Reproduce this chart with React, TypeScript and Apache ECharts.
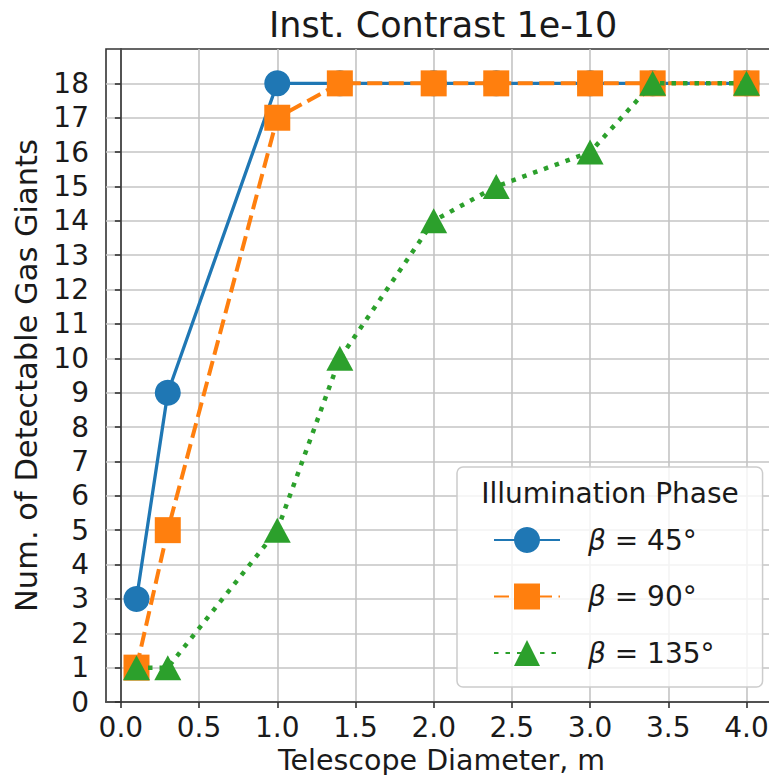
import React, { useEffect, useRef } from "react";
import * as echarts from "echarts";

const diameters = [0.1, 0.3, 1.0, 1.4, 2.0, 2.4, 3.0, 3.4, 4.0];
const beta45 = [3, 9, 18, 18, 18, 18, 18, 18, 18];
const beta90 = [1, 5, 17, 18, 18, 18, 18, 18, 18];
const beta135 = [1, 1, 5, 10, 14, 15, 16, 18, 18];
const xTicks = [0, 0.5, 1.0, 1.5, 2.0, 2.5, 3.0, 3.5, 4.0];
const yTicks = [0, 1, 2, 3, 4, 5, 6, 7, 8, 9, 10, 11, 12, 13, 14, 15, 16, 17, 18];
const seriesNames = ["45", "90", "135"];

const FONT = "DejaVu Sans";
const TEXT = "#1a1a1a";

export default function App() {
  const ref = useRef<HTMLDivElement>(null);
  useEffect(() => {
    if (!ref.current) return;
    const chart = echarts.init(ref.current, undefined, { renderer: "svg" });
    const pairs = (ys: number[]) => diameters.map((x, i) => [x, ys[i]]);
    chart.setOption({
      animation: false,
      backgroundColor: "#ffffff",
      textStyle: { fontFamily: FONT },
      title: {
        text: "Inst. Contrast 1e-10",
        left: 264,
        top: 2,
        textStyle: { fontFamily: FONT, fontSize: 35, fontWeight: "normal", color: TEXT },
      },
      graphic: [
        {
          type: "text",
          z: 100,
          x: 610,
          y: 493,
          style: {
            text: "Illumination Phase",
            fontFamily: FONT,
            fontSize: 28,
            fill: TEXT,
            textAlign: "center",
            textVerticalAlign: "middle",
          },
        },
      ],
      grid: {
        left: 106,
        right: -2,
        top: 49,
        bottom: 81,
        show: true,
        borderColor: "#333333",
        borderWidth: 1.6,
        backgroundColor: "transparent",
      },
      legend: {
        orient: "vertical",
        left: 457,
        top: 467,
        padding: [59, 48, 20, 36],
        itemWidth: 66,
        itemHeight: 32.5,
        itemGap: 28.5,
        backgroundColor: "rgba(255,255,255,0.8)",
        borderColor: "#cccccc",
        borderWidth: 1.5,
        borderRadius: 6,
        data: seriesNames,
        formatter: (name: string) => `{i|β}{n| = ${name}°}`,
        textStyle: {
          fontFamily: FONT,
          fontSize: 28,
          color: TEXT,
          padding: [0, 0, 0, 23],
          rich: {
            i: { fontFamily: FONT, fontSize: 28, fontStyle: "italic", color: TEXT },
            n: { fontFamily: FONT, fontSize: 28, color: TEXT },
          },
        },
      },
      xAxis: {
        type: "value",
        min: -0.095,
        max: 4.195,
        name: "Telescope Diameter, m",
        nameLocation: "middle",
        nameGap: 44,
        nameTextStyle: { fontFamily: FONT, fontSize: 28.5, color: TEXT },
        axisLine: { show: true, lineStyle: { color: "#333333", width: 1.6 } },
        axisTick: {
          show: true,
          customValues: xTicks,
          length: 6,
          lineStyle: { color: "#333333", width: 1.6 },
        },
        axisLabel: {
          customValues: xTicks,
          formatter: (v: number) => v.toFixed(1),
          fontFamily: FONT,
          fontSize: 28,
          color: TEXT,
          margin: 11,
        },
        splitLine: { show: true, lineStyle: { color: "#c4c4c4", width: 1.6 } },
      },
      yAxis: {
        type: "value",
        min: 0,
        max: 19,
        name: "Num. of Detectable Gas Giants",
        nameLocation: "middle",
        nameGap: 62,
        nameTextStyle: { fontFamily: FONT, fontSize: 30.5, color: TEXT },
        axisLine: { show: true, lineStyle: { color: "#333333", width: 1.6 } },
        axisTick: {
          show: true,
          customValues: yTicks,
          length: 6,
          lineStyle: { color: "#333333", width: 1.6 },
        },
        axisLabel: {
          customValues: yTicks,
          fontFamily: FONT,
          fontSize: 28,
          color: TEXT,
          margin: 17,
        },
        splitLine: { show: true, lineStyle: { color: "#c4c4c4", width: 1.6 } },
      },
      series: [
        {
          name: seriesNames[0],
          type: "line",
          data: pairs(beta45),
          symbol: "circle",
          symbolSize: 26,
          color: "#1f77b4",
          lineStyle: { color: "#1f77b4", width: 3.3, type: "solid" },
          itemStyle: { color: "#1f77b4" },
          z: 2,
        },
        {
          name: seriesNames[1],
          type: "line",
          data: pairs(beta90),
          symbol: "rect",
          symbolSize: 26,
          color: "#ff7f0e",
          lineStyle: { color: "#ff7f0e", width: 4, type: [15, 6.5] },
          itemStyle: { color: "#ff7f0e" },
          z: 3,
        },
        {
          name: seriesNames[2],
          type: "line",
          data: pairs(beta135),
          symbol: "triangle",
          symbolSize: [27, 25],
          color: "#2ca02c",
          lineStyle: { color: "#2ca02c", width: 4.5, type: [4.5, 7] },
          itemStyle: { color: "#2ca02c" },
          z: 4,
        },
      ],
    });
    return () => chart.dispose();
  }, []);
  return <div ref={ref} style={{ width: 777, height: 783, margin: -8 }} />;
}
